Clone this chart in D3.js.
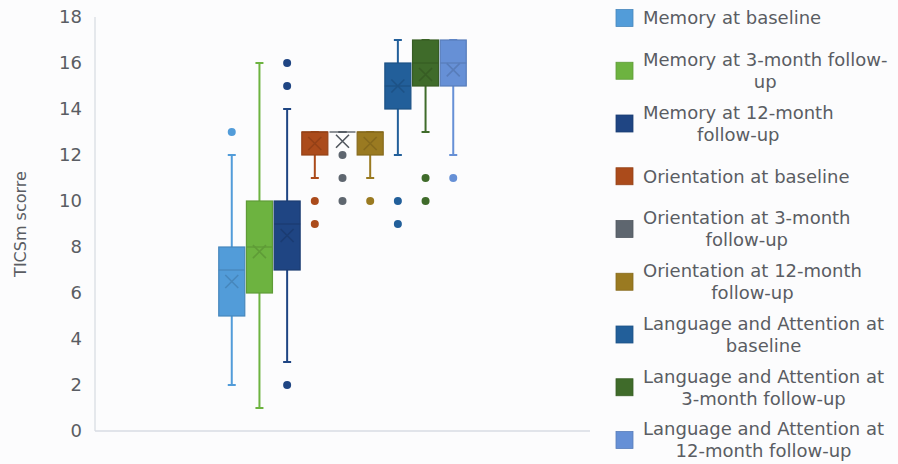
<!DOCTYPE html>
<html>
<head>
<meta charset="utf-8">
<script src="https://cdn.jsdelivr.net/npm/d3@7"></script>
<style>
  body { margin: 0; background: #fcfcfd; }
  svg { display: block; font-family: "DejaVu Sans", sans-serif; }
</style>
</head>
<body>
<div id="chart"></div>
<script>
const series = [
  "Memory at baseline", "Memory at 3-month follow-up", "Memory at 12-month follow-up",
  "Orientation at baseline", "Orientation at 3-month follow-up", "Orientation at 12-month follow-up",
  "Language and Attention at baseline", "Language and Attention at 3-month follow-up",
  "Language and Attention at 12-month follow-up"
];
const legendLines = [
  ["Memory at baseline"],
  ["Memory at 3-month follow-", "up"],
  ["Memory at 12-month", "follow-up"],
  ["Orientation at baseline"],
  ["Orientation at 3-month", "follow-up"],
  ["Orientation at 12-month", "follow-up"],
  ["Language and Attention at", "baseline"],
  ["Language and Attention at", "3-month follow-up"],
  ["Language and Attention at", "12-month follow-up"]
];
const colors = ["#529cd9", "#6db340", "#1f4583", "#ab4b1b", "#5e666f", "#9a7a21", "#225f9a", "#3f6b2a", "#6690d6"];

// box stats
const q1 =       [5, 6, 7, 12, 13, 12, 14, 15, 15];
const median =   [7, 8, 9, 13, 13, 13, 15, 16, 16];
const q3 =       [8, 10, 10, 13, 13, 13, 16, 17, 17];
const mean =     [6.5, 7.8, 8.5, 12.5, 12.6, 12.5, 15, 15.5, 15.7];
const whiskLow = [2, 1, 3, 11, 13, 11, 12, 13, 12];
const whiskHigh = [12, 16, 14, 13, 13, 13, 17, 17, 17];
const outliers = [[13], [], [16, 15, 2], [10, 9], [12, 11, 10], [10], [10, 9], [11, 10], [11]];
const yTicks = [0, 2, 4, 6, 8, 10, 12, 14, 16, 18];

const width = 898, height = 464;
const plot = {left: 95, right: 590, top: 17, bottom: 431};

const svg = d3.select("#chart").append("svg")
    .attr("width", width)
    .attr("height", height);

const y = d3.scaleLinear().domain([0, 18]).range([plot.bottom, plot.top]);
const x0 = d3.scaleBand().domain(["all"]).range([plot.left, plot.right]).paddingOuter(0.5);
const x = d3.scaleBand().domain(series).range([x0("all"), x0("all") + x0.bandwidth()]).paddingInner(0.06);
const bw = x.bandwidth();

// axes lines
svg.append("line")
    .attr("x1", plot.left).attr("x2", plot.left)
    .attr("y1", plot.top).attr("y2", plot.bottom)
    .attr("stroke", "#d9dde3").attr("stroke-width", 1.3);
svg.append("line")
    .attr("x1", plot.left).attr("x2", plot.right)
    .attr("y1", plot.bottom).attr("y2", plot.bottom)
    .attr("stroke", "#d9dde3").attr("stroke-width", 1.3);

// tick labels
svg.selectAll(".ytick").data(yTicks).enter()
    .append("text")
    .attr("x", 82)
    .attr("y", d => y(d))
    .attr("dy", "0.36em")
    .attr("text-anchor", "end")
    .attr("fill", "#5a5d63")
    .style("font-size", "18px")
    .text(d => d);

// y-axis label
svg.append("text")
    .attr("transform", "translate(26,224) rotate(-90)")
    .attr("text-anchor", "middle")
    .attr("fill", "#5a5d63")
    .style("font-size", "16px")
    .text("TICSm scorre");

// boxes
series.forEach((s, i) => {
    const c = colors[i];
    const dark = d3.color(c).darker(0.4).formatHex();
    const cx = x(s) + bw / 2;
    const g = svg.append("g");

    // whiskers
    g.append("line")
        .attr("x1", cx).attr("x2", cx)
        .attr("y1", y(whiskHigh[i])).attr("y2", y(q3[i]))
        .attr("stroke", c).attr("stroke-width", 2);
    g.append("line")
        .attr("x1", cx).attr("x2", cx)
        .attr("y1", y(q1[i])).attr("y2", y(whiskLow[i]))
        .attr("stroke", c).attr("stroke-width", 2);
    [whiskLow[i], whiskHigh[i]].forEach(v => {
        g.append("line")
            .attr("x1", cx - 4).attr("x2", cx + 4)
            .attr("y1", y(v)).attr("y2", y(v))
            .attr("stroke", c).attr("stroke-width", 2);
    });

    g.append("rect")
        .attr("x", x(s))
        .attr("y", y(q3[i]))
        .attr("width", bw)
        .attr("height", y(q1[i]) - y(q3[i]))
        .attr("fill", c)
        .attr("stroke", q3[i] === q1[i] ? c : dark)
        .attr("stroke-width", q3[i] === q1[i] ? 2 : 1.2);

    g.append("line")
        .attr("x1", x(s)).attr("x2", x(s) + bw)
        .attr("y1", y(median[i])).attr("y2", y(median[i]))
        .attr("stroke", dark).attr("stroke-width", 1.3);

    // mean marker
    const mx = cx, my = y(mean[i]), r = 6.5;
    g.append("path")
        .attr("d", `M${mx - r},${my - r}L${mx + r},${my + r}M${mx - r},${my + r}L${mx + r},${my - r}`)
        .attr("stroke", dark).attr("stroke-width", 1.6).attr("fill", "none");

    g.selectAll("circle").data(outliers[i]).enter()
        .append("circle")
        .attr("cx", cx)
        .attr("cy", d => y(d))
        .attr("r", 4)
        .attr("fill", c);
});

// legend
const legend = svg.append("g");
series.forEach((s, i) => {
    const cy = 18 + i * 52.75;
    const lines = legendLines[i];
    legend.append("rect")
        .attr("x", 616).attr("y", cy - 8.5)
        .attr("width", 17).attr("height", 17)
        .attr("fill", colors[i])
        .attr("stroke", d3.color(colors[i]).darker(0.4).formatHex())
        .attr("stroke-width", 0.8);
    const t = legend.append("text")
        .attr("fill", "#5a5d63")
        .style("font-size", "18px");
    const spans = lines.map((l, j) => t.append("tspan")
        .attr("y", cy + (j - (lines.length - 1) / 2) * 22)
        .attr("dy", "0.36em")
        .text(l));
    const maxW = d3.max(spans, sp => sp.node().getComputedTextLength());
    spans.forEach(sp => sp.attr("x", 643 + maxW / 2).attr("text-anchor", "middle"));
});
</script>
</body>
</html>
